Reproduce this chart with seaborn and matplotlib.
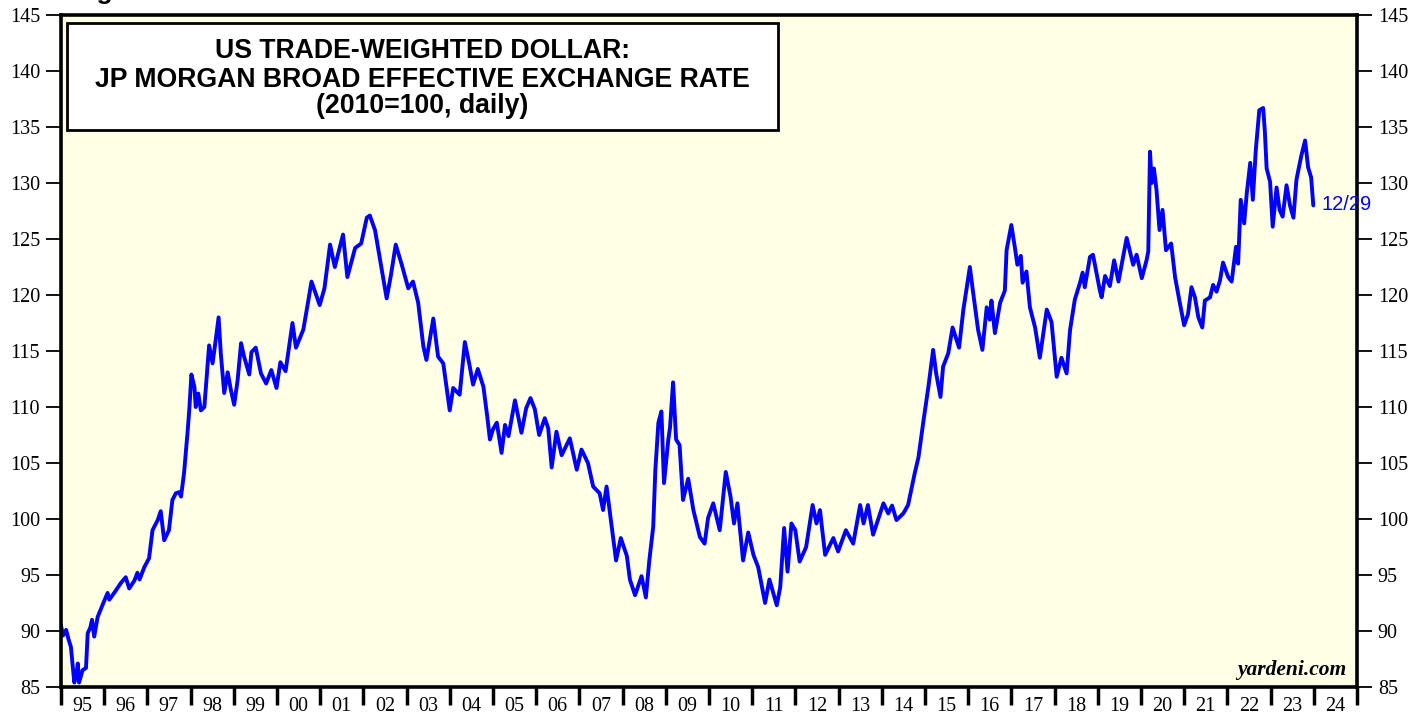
import matplotlib

matplotlib.use('Agg')
import matplotlib.pyplot as plt
import pandas as pd
import seaborn as sns
from matplotlib.patches import Rectangle

# JP Morgan broad effective exchange rate (decimal years)
years = [
    1995.00, 1995.05, 1995.12, 1995.18, 1995.23, 1995.31, 1995.36, 1995.39, 1995.42, 1995.50,
    1995.58, 1995.62, 1995.68, 1995.72, 1995.77, 1995.85, 1995.96, 1996.08, 1996.12, 1996.25,
    1996.39, 1996.50, 1996.58, 1996.70, 1996.77, 1996.82, 1996.93, 1997.04, 1997.12, 1997.24,
    1997.31, 1997.39, 1997.50, 1997.58, 1997.66, 1997.74, 1997.78, 1997.85, 1997.93, 1997.97,
    1998.02, 1998.09, 1998.12, 1998.18, 1998.24, 1998.32, 1998.43, 1998.51, 1998.58, 1998.65,
    1998.70, 1998.78, 1998.86, 1998.93, 1999.01, 1999.09, 1999.17, 1999.24, 1999.36, 1999.41,
    1999.51, 1999.63, 1999.75, 1999.87, 1999.99, 2000.08, 2000.20, 2000.36, 2000.44, 2000.61,
    2000.70, 2000.80, 2000.99, 2001.10, 2001.23, 2001.34, 2001.53, 2001.63, 2001.81, 2001.95,
    2002.08, 2002.15, 2002.27, 2002.38, 2002.54, 2002.64, 2002.75, 2002.89, 2003.04, 2003.15,
    2003.27, 2003.39, 2003.46, 2003.62, 2003.73, 2003.85, 2004.00, 2004.08, 2004.23, 2004.35,
    2004.45, 2004.54, 2004.65, 2004.78, 2004.87, 2004.93, 2005.00, 2005.09, 2005.20, 2005.28,
    2005.36, 2005.51, 2005.66, 2005.77, 2005.87, 2005.97, 2006.07, 2006.20, 2006.28, 2006.36,
    2006.47, 2006.59, 2006.78, 2006.94, 2007.05, 2007.20, 2007.32, 2007.47, 2007.55, 2007.63,
    2007.75, 2007.85, 2007.96, 2008.10, 2008.17, 2008.29, 2008.44, 2008.54, 2008.62, 2008.71,
    2008.76, 2008.83, 2008.90, 2008.96, 2009.06, 2009.10, 2009.17, 2009.24, 2009.32, 2009.40,
    2009.52, 2009.64, 2009.79, 2009.90, 2009.98, 2010.10, 2010.25, 2010.39, 2010.50, 2010.58,
    2010.66, 2010.79, 2010.91, 2011.03, 2011.14, 2011.30, 2011.40, 2011.57, 2011.65, 2011.74,
    2011.82, 2011.91, 2012.00, 2012.10, 2012.25, 2012.40, 2012.49, 2012.57, 2012.69, 2012.88,
    2012.99, 2013.17, 2013.34, 2013.50, 2013.58, 2013.68, 2013.80, 2014.04, 2014.15, 2014.24,
    2014.34, 2014.50, 2014.61, 2014.77, 2014.85, 2014.96, 2015.08, 2015.19, 2015.26, 2015.36,
    2015.42, 2015.54, 2015.64, 2015.79, 2015.89, 2016.04, 2016.12, 2016.23, 2016.33, 2016.43,
    2016.50, 2016.54, 2016.62, 2016.74, 2016.85, 2016.89, 2017.00, 2017.08, 2017.14, 2017.22,
    2017.26, 2017.35, 2017.43, 2017.55, 2017.66, 2017.82, 2017.93, 2018.05, 2018.16, 2018.28,
    2018.36, 2018.47, 2018.59, 2018.65, 2018.70, 2018.82, 2018.89, 2019.05, 2019.09, 2019.17,
    2019.28, 2019.38, 2019.48, 2019.67, 2019.82, 2019.90, 2020.02, 2020.13, 2020.17, 2020.21,
    2020.25, 2020.30, 2020.36, 2020.43, 2020.50, 2020.58, 2020.70, 2020.79, 2020.90, 2021.00,
    2021.09, 2021.17, 2021.25, 2021.33, 2021.42, 2021.48, 2021.60, 2021.67, 2021.75, 2021.83,
    2021.90, 2022.02, 2022.10, 2022.20, 2022.25, 2022.31, 2022.39, 2022.45, 2022.53, 2022.59,
    2022.66, 2022.74, 2022.83, 2022.87, 2022.91, 2022.99, 2023.05, 2023.14, 2023.21, 2023.28,
    2023.37, 2023.45, 2023.53, 2023.60, 2023.71, 2023.80, 2023.87, 2023.94, 2023.99,
]
dollar = [
    90.5, 89.6, 90.1, 89.2, 88.6, 85.4, 86.2, 87.1, 85.4, 86.5,
    86.7, 89.8, 90.3, 91.0, 89.5, 91.25, 92.3, 93.4, 92.8, 93.5,
    94.3, 94.8, 93.8, 94.5, 95.2, 94.6, 95.7, 96.5, 99.0, 99.9,
    100.7, 98.1, 99.0, 101.7, 102.3, 102.4, 102.0, 104.1, 107.7, 109.7,
    112.9, 111.8, 110.0, 111.2, 109.7, 110.0, 115.5, 113.9, 115.9, 118.0,
    114.8, 111.25, 113.1, 111.6, 110.2, 112.4, 115.7, 114.5, 112.9, 114.9,
    115.3, 113.0, 112.1, 113.3, 111.7, 114.0, 113.2, 117.5, 115.3, 116.9,
    118.9, 121.2, 119.1, 120.6, 124.5, 122.5, 125.4, 121.6, 124.2, 124.6,
    126.9, 127.1, 125.8, 123.3, 119.7, 121.8, 124.5, 122.7, 120.6, 121.2,
    119.3, 115.4, 114.2, 117.9, 114.5, 113.9, 109.7, 111.7, 111.1, 115.8,
    113.9, 112.0, 113.4, 111.8, 109.1, 107.1, 108.0, 108.6, 105.9, 108.4,
    107.4, 110.6, 107.7, 109.9, 110.8, 109.8, 107.5, 109.0, 108.1, 104.6,
    107.8, 105.7, 107.2, 104.4, 106.2, 105.0, 102.9, 102.3, 100.8, 102.9,
    99.3, 96.3, 98.3, 96.7, 94.6, 93.2, 94.9, 93.0, 96.3, 99.3,
    104.4, 108.6, 109.6, 103.2, 107.1, 108.2, 112.2, 107.1, 106.6, 101.7,
    103.6, 100.8, 98.4, 97.8, 100.1, 101.4, 99.0, 104.2, 102.0, 99.6,
    101.4, 96.3, 98.8, 96.8, 95.7, 92.5, 94.6, 92.3, 93.9, 99.2,
    95.3, 99.6, 99.0, 96.2, 97.5, 101.25, 99.6, 100.8, 96.8, 98.3,
    97.1, 99.0, 97.8, 101.25, 99.6, 101.25, 98.6, 101.4, 100.5, 101.2,
    99.9, 100.5, 101.25, 104.2, 105.5, 108.6, 111.8, 115.1, 113.0, 110.9,
    113.6, 114.8, 117.1, 115.3, 118.7, 122.5, 120.1, 116.9, 115.1, 118.9,
    117.8, 119.5, 116.6, 119.3, 120.4, 124.0, 126.25, 124.3, 122.7, 123.5,
    121.1, 122.1, 118.9, 117.1, 114.4, 118.7, 117.6, 112.7, 114.4, 113.0,
    116.9, 119.6, 121.1, 122.0, 120.7, 123.4, 123.6, 120.4, 119.8, 121.7,
    120.8, 123.1, 121.2, 125.1, 122.7, 123.6, 121.5, 123.1, 123.9, 132.8,
    130.0, 131.3, 129.4, 125.8, 127.6, 124.0, 124.6, 121.6, 119.3, 117.3,
    118.3, 120.7, 119.8, 118.0, 117.1, 119.5, 119.8, 120.9, 120.3, 121.3,
    122.9, 121.6, 121.2, 124.3, 122.8, 128.5, 126.4, 129.1, 131.8, 128.5,
    133.0, 136.5, 136.7, 134.5, 131.3, 130.1, 126.1, 129.6, 127.6, 127.0,
    129.8, 128.0, 126.9, 130.3, 132.4, 133.8, 131.4, 130.5, 128.0,
]
ytick_values = list(range(85, 146, 5))
year_labels = ['95', '96', '97', '98', '99', '00', '01', '02', '03', '04',
               '05', '06', '07', '08', '09', '10', '11', '12', '13', '14',
               '15', '16', '17', '18', '19', '20', '21', '22', '23', '24']
title_lines = ['US TRADE-WEIGHTED DOLLAR:',
               'JP MORGAN BROAD EFFECTIVE EXCHANGE RATE',
               '(2010=100, daily)']

df = pd.DataFrame({'year': years, 'dollar': dollar})

sns.set_style('ticks')
plt.rcParams['font.family'] = ['Liberation Serif', 'DejaVu Serif']
plt.rcParams['text.color'] = 'black'
plt.rcParams['xtick.color'] = 'black'
plt.rcParams['ytick.color'] = 'black'

fig = plt.figure(figsize=(14.27, 7.19), dpi=100)
ax = fig.add_axes([0.0427, 0.0445, 0.9082, 0.9346])
ax.set_facecolor('#ffffe6')

sns.lineplot(data=df, x='year', y='dollar', color='#0000ff', linewidth=2.8, ax=ax)

ax.set_xlim(1995, 2025)
ax.set_ylim(85, 145)
ax.set_xlabel('')
ax.set_ylabel('')

ax.set_yticks(ytick_values)
ax.tick_params(axis='y', direction='out', length=11, width=1.3, labelsize=14.5,
               left=True, right=True, labelleft=True, labelright=True, pad=4,
               colors='black')

ax.set_xticks(range(1995, 2026))
ax.set_xticklabels([])
ax.set_xticks([y + 0.5 for y in range(1995, 2025)], minor=True)
ax.set_xticklabels(year_labels, minor=True)
ax.tick_params(axis='x', which='major', direction='out', length=13, width=2.5, colors='black')
ax.tick_params(axis='x', which='minor', length=0, pad=7, labelsize=14.5, colors='black')

for s in ax.spines.values():
    s.set_visible(True)
    s.set_color('black')
    s.set_linewidth(2.6)

# title box
ax.add_patch(Rectangle((0.0046, 0.8289), 0.5486, 0.1592, transform=ax.transAxes,
                       facecolor='white', edgecolor='black', linewidth=2, zorder=5))
for txt, yy in zip(title_lines, [0.936, 0.8929, 0.8542]):
    ax.text(0.279, yy, txt, transform=ax.transAxes, ha='center', va='baseline',
            fontsize=19.2, fontweight='bold', color='black',
            family=['Liberation Sans', 'DejaVu Sans'], zorder=6)

ax.text(2024.17, 128.1, '12/29', color='#0000ff', fontsize=14.5, ha='left', va='center',
        family=['Liberation Sans', 'DejaVu Sans'], clip_on=False)
ax.text(0.9915, 0.018, 'yardeni.com', transform=ax.transAxes, ha='right', va='baseline',
        fontsize=15.5, fontweight='bold', fontstyle='italic', color='black')

# figure caption, cut off at the top edge as in the source
fig.text(0.051, 1.0015, 'Figure 1.', ha='left', va='baseline', fontsize=19,
         fontweight='bold', color='black', family=['Liberation Sans', 'DejaVu Sans'])

plt.savefig('out.png', dpi=100)
